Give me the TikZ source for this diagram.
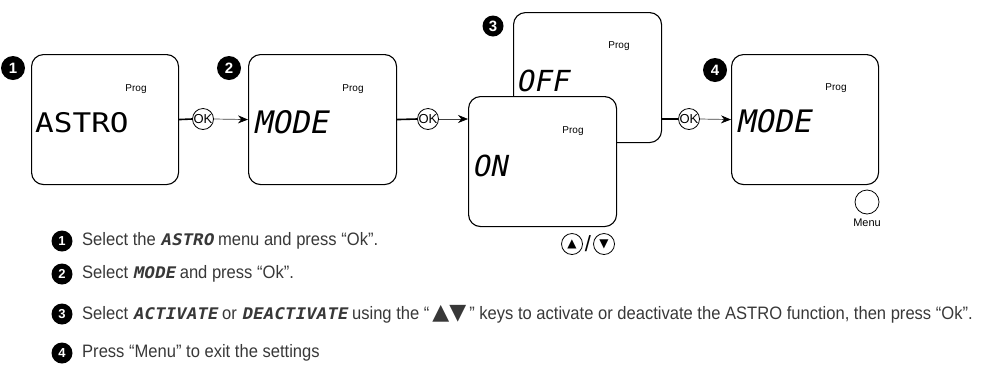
\documentclass[tikz,border=0pt]{standalone}
\usepackage{fontspec}
\setmainfont{Liberation Sans}
\newfontfamily\descfont{Liberation Sans}[FakeStretch=0.92]
\newfontfamily\segfont{DejaVu Sans Mono}[FakeSlant=0.2]
\newfontfamily\segupfont{DejaVu Sans Mono}[FakeStretch=1.15]
\newfontfamily\seginline{DejaVu Sans Mono}[FakeSlant=0.2,FakeStretch=1.1]
\newfontfamily\symfont{DejaVu Sans}
\usetikzlibrary{arrows.meta}
\tikzset{
  lcd/.style={draw=black, line width=1.1pt, rounded corners=12pt, fill=white, anchor=north west, inner sep=0},
  badge/.style={circle, fill=black, text=white, inner sep=0, minimum size=24pt, font=\bfseries\fontsize{15}{15}\selectfont},
  smallbadge/.style={badge, minimum size=21pt, font=\bfseries\fontsize{13}{13}\selectfont},
  okc/.style={circle, draw, line width=0.8pt, minimum size=21pt, inner sep=0, fill=white, font=\fontsize{13}{13}\selectfont},
  prog/.style={font=\fontsize{10}{12}\selectfont, inner sep=0},
  seg/.style={anchor=west, inner sep=0},
  desc/.style={anchor=west, inner sep=0, text=black!78, font=\descfont\fontsize{18}{20}\selectfont},
  thickline/.style={line width=1.6pt},
  arrowline/.style={line width=0.7pt, draw=black!75, -{Stealth[length=10pt,width=8pt,color=black,fill=black]}},
  keyc/.style={circle, draw, line width=0.8pt, minimum size=21pt, inner sep=0},
}
\newcommand{\inseg}[1]{{\seginline\bfseries\fontsize{16}{18}\selectfont #1}}
\begin{document}
\begin{tikzpicture}[x=1pt,y=-1pt]
\useasboundingbox (0,0) rectangle (981,376);
% boxes
\node[lcd, minimum width=147pt, minimum height=130pt] (b1) at (31,54) {};
\node[lcd, minimum width=148pt, minimum height=130pt] (b2) at (248,54) {};
\node[lcd, minimum width=148pt, minimum height=130pt] (b3b) at (513,12) {};
\node[lcd, minimum width=148pt, minimum height=130pt] (b3f) at (468,96) {};
\node[lcd, minimum width=147pt, minimum height=130pt] (b4) at (731,54) {};
% Prog labels
\node[prog] (p1) at (136,89) {Prog};
\node[prog] (p2) at (353,89) {Prog};
\node[prog] (p3b) at (619,46) {Prog};
\node[prog] (p3f) at (573,131) {Prog};
\node[prog] (p4) at (836,88) {Prog};
% segment texts
\node[seg, font=\segupfont\fontsize{27}{27}\selectfont] (t1) at (35,123) {ASTRO};
\node[seg, font=\segfont\fontsize{31}{31}\selectfont] (t2) at (253,122) {MODE};
\node[seg, font=\segfont\fontsize{29}{29}\selectfont] (t3b) at (516,81) {OFF};
\node[seg, font=\segfont\fontsize{29}{29}\selectfont] (t3f) at (472,166) {ON};
\node[seg, font=\segfont\fontsize{31}{31}\selectfont] (t4) at (736,121) {MODE};
% badges
\node[badge] (n1) at (13,68) {1};
\node[badge] (n2) at (229,68) {2};
\node[badge, minimum size=21pt] (n3) at (493,26) {3};
\node[badge] (n4) at (715,70) {4};
% OK circles and connectors
\node[okc] (ok1) at (203,119) {OK};
\node[okc] (ok2) at (428,119) {OK};
\node[okc] (ok3) at (689,119) {OK};
\draw[thickline] (b1.east) -- (ok1.west);
\draw[arrowline] (ok1.east) -- (b2.west);
\draw[thickline] (b2.east) -- (ok2.west);
\coordinate (f3) at (ok2 -| b3f.west);
\draw[arrowline] (ok2.east) -- (f3);
\coordinate (e3) at (ok3 -| b3b.east);
\draw[thickline] (e3) -- (ok3.west);
\draw[arrowline] (ok3.east) -- (b4.west);
% Menu button
\node[keyc, minimum size=24pt] (menu) at (867,202) {};
\node[prog, font=\fontsize{11}{12}\selectfont] (menut) at (867,223) {Menu};
% up / down keys
\node[keyc] (up) at (572,244) {\symfont\fontsize{12}{12}\selectfont ▲};
\node[keyc] (dn) at (604,244) {\symfont\fontsize{12}{12}\selectfont ▼};
\node[inner sep=0, font=\fontsize{22}{22}\selectfont] (sl) at (588,244) {/};
% description
\node[smallbadge] (d1) at (62,241) {1};
\node[desc] (l1) at (82,241) {Select the \inseg{ASTRO} menu and press “Ok”.};
\node[smallbadge] (d2) at (62,274) {2};
\node[desc] (l2) at (82,274) {Select \inseg{MODE} and press “Ok”.};
\node[smallbadge] (d3) at (62,314) {3};
\node[desc] (l3) at (82,314) {Select \inseg{ACTIVATE} or \inseg{DEACTIVATE} using the “\,{\symfont\fontsize{22}{22}\selectfont ▲▼}\,” keys to activate or deactivate the ASTRO function, then press “Ok”.};
\node[smallbadge] (d4) at (62,353) {4};
\node[desc] (l4) at (82,353) {Press “Menu” to exit the settings};
\end{tikzpicture}
\end{document}
